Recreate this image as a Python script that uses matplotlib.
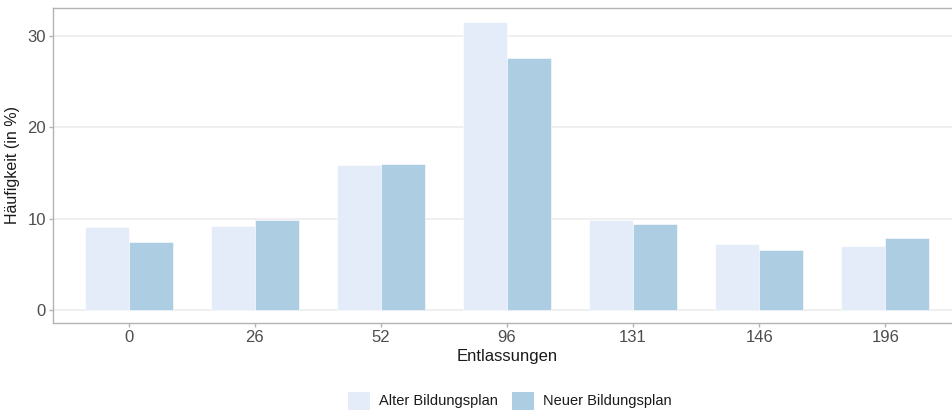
import numpy as np
import matplotlib
matplotlib.use("Agg")
import matplotlib.pyplot as plt
from matplotlib.patches import Patch

plt.rcParams['font.family'] = ['Liberation Sans', 'DejaVu Sans']

# data
categories = ['0', '26', '52', '96', '131', '146', '196']
alter = [9.05, 9.2, 15.9, 31.5, 9.85, 7.25, 7.0]
neuer = [7.45, 9.85, 16.0, 27.6, 9.45, 6.55, 7.9]
series_names = ['Alter Bildungsplan', 'Neuer Bildungsplan']
colors = ['#E3ECF8', '#ADCDE2']

fig = plt.figure(figsize=(9.53, 4.13), dpi=100)
ax = fig.add_axes([53 / 953, 1 - 323 / 413, 908 / 953, 315 / 413])

x = np.arange(1, len(categories) + 1)
w = 0.35
ax.bar(x - w / 2, alter, width=w, color=colors[0], edgecolor='white', linewidth=0.4, zorder=2)
ax.bar(x + w / 2, neuer, width=w, color=colors[1], edgecolor='white', linewidth=0.4, zorder=2)

ax.set_xlim(0.4, 7.6)
ax.set_ylim(-1.45, 33.07)
ax.set_xticks(x)
ax.set_xticklabels(categories)
ax.set_yticks([0, 10, 20, 30])
ax.yaxis.grid(True, color='#EBEBEB', linewidth=1.1, zorder=0)
ax.set_axisbelow(True)

for s in ax.spines.values():
    s.set_color('#B3B3B3')
    s.set_linewidth(1.0)

ax.tick_params(axis='both', colors='#B3B3B3', labelcolor='#4D4D4D', labelsize=12, length=3, width=1, pad=2)
ax.set_xlabel('Entlassungen', fontsize=12, color='#1A1A1A', labelpad=3)
ax.set_ylabel('Häufigkeit (in %)', fontsize=11.5, color='#1A1A1A', labelpad=5)

handles = [Patch(facecolor=c, edgecolor='none') for c in colors]
fig.legend(handles, series_names, loc='center', bbox_to_anchor=(0.535, 0.03),
           ncol=2, frameon=False, fontsize=10.5, handlelength=1.5, handleheight=1.5,
           columnspacing=1.0, handletextpad=0.6, labelcolor='#1A1A1A')

fig.savefig('out.png', dpi=100)
